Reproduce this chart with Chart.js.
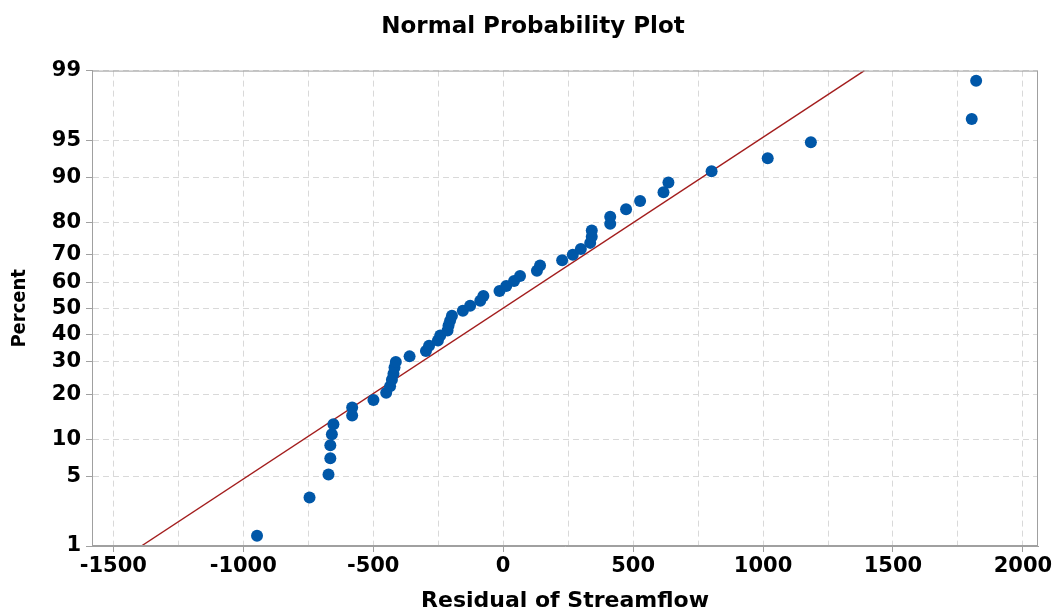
<!DOCTYPE html>
<html>
<head>
<meta charset="utf-8">
<script src="https://cdn.jsdelivr.net/npm/chart.js@4/dist/chart.umd.min.js"></script>
<style>
  body { margin: 0; background: #fff; }
</style>
</head>
<body>
<canvas id="graficoProb" width="1058" height="614"></canvas>
<script>
// residuos ordenados e percentis
const residuos = [-947, -745, -672, -665, -665, -659, -653, -581, -581, -499,
    -450, -435, -428, -422, -418, -413, -360, -297, -285, -251,
    -242, -214, -210, -204, -197, -155, -127, -88, -76, -14,
    12, 42, 65, 130, 142, 227, 268, 299, 335, 341,
    341, 412, 412, 473, 527, 617, 636, 802, 1018, 1184,
    1803, 1820];
const percentis = [1.3, 3.2, 5.2, 7.1, 9.0, 10.9, 12.8, 14.7, 16.6, 18.5,
    20.4, 22.3, 24.2, 26.1, 28.1, 30.0, 31.9, 33.8, 35.7, 37.6,
    39.5, 41.4, 43.3, 45.2, 47.1, 49.0, 51.0, 52.9, 54.8, 56.7,
    58.6, 60.5, 62.4, 64.3, 66.2, 68.1, 70.0, 71.9, 73.9, 75.8,
    77.7, 79.6, 81.5, 83.4, 85.3, 87.2, 89.1, 91.0, 92.9, 94.8,
    96.8, 98.7];
// reta de ajuste (extremos)
const retaX = [-1392, 1390];
const retaY = [1, 99];

const ticksY = [1, 5, 10, 20, 30, 40, 50, 60, 70, 80, 90, 95, 99];
const ticksX = [-1500, -1250, -1000, -750, -500, -250, 0, 250, 500, 750, 1000, 1250, 1500, 1750, 2000];

// inversa da normal (Acklam)
function probit(p) {
    const a = [-3.969683028665376e+01, 2.209460984245205e+02, -2.759285104469687e+02, 1.383577518672690e+02, -3.066479806614716e+01, 2.506628277459239e+00];
    const b = [-5.447609879822406e+01, 1.615858368580409e+02, -1.556989798598866e+02, 6.680131188771972e+01, -1.328068155288572e+01];
    const c = [-7.784894002430293e-03, -3.223964580411365e-01, -2.400758277161838e+00, -2.549732539343734e+00, 4.374664141464968e+00, 2.938163982698783e+00];
    const d = [7.784695709041462e-03, 3.224671290700398e-01, 2.445134137142996e+00, 3.754408661907416e+00];
    const pl = 0.02425;
    let q, r;
    if (p < pl) {
        q = Math.sqrt(-2 * Math.log(p));
        return (((((c[0] * q + c[1]) * q + c[2]) * q + c[3]) * q + c[4]) * q + c[5]) / ((((d[0] * q + d[1]) * q + d[2]) * q + d[3]) * q + 1);
    }
    if (p > 1 - pl) {
        q = Math.sqrt(-2 * Math.log(1 - p));
        return -(((((c[0] * q + c[1]) * q + c[2]) * q + c[3]) * q + c[4]) * q + c[5]) / ((((d[0] * q + d[1]) * q + d[2]) * q + d[3]) * q + 1);
    }
    q = p - 0.5;
    r = q * q;
    return (((((a[0] * r + a[1]) * r + a[2]) * r + a[3]) * r + a[4]) * r + a[5]) * q / (((((b[0] * r + b[1]) * r + b[2]) * r + b[3]) * r + b[4]) * r + 1);
}

function normCdf(z) {
    // aproximacao simples, so usada em getValueForPixel
    const t = 1 / (1 + 0.2316419 * Math.abs(z));
    const y = 0.3989423 * Math.exp(-z * z / 2) * t * (0.3193815 + t * (-0.3565638 + t * (1.781478 + t * (-1.821256 + t * 1.330274))));
    return z > 0 ? 1 - y : y;
}

// escala de probabilidade normal
class ProbabilityScale extends Chart.LinearScale {
    buildTicks() {
        return ticksY.map(v => ({ value: v }));
    }
    getPixelForValue(value) {
        const z0 = probit(this.min / 100);
        const z1 = probit(this.max / 100);
        return this.getPixelForDecimal((probit(value / 100) - z0) / (z1 - z0));
    }
    getValueForPixel(pixel) {
        const z0 = probit(this.min / 100);
        const z1 = probit(this.max / 100);
        return normCdf(z0 + this.getDecimalForPixel(pixel) * (z1 - z0)) * 100;
    }
}
ProbabilityScale.id = 'probability';
ProbabilityScale.defaults = Chart.LinearScale.defaults;
Chart.register(ProbabilityScale);

// moldura em volta da area do grafico
const moldura = {
    id: 'moldura',
    afterDatasetsDraw(chart) {
        const a = chart.chartArea;
        const ctx = chart.ctx;
        ctx.save();
        ctx.strokeStyle = '#a0a0a0';
        ctx.lineWidth = 1;
        ctx.strokeRect(a.left + 0.5, a.top + 0.5, a.right - a.left - 1, a.bottom - a.top - 1);
        ctx.restore();
    }
};

const pontos = residuos.map((v, i) => ({ x: v, y: percentis[i] }));
const reta = retaX.map((v, i) => ({ x: v, y: retaY[i] }));

const fonteLarga = "'DejaVu Sans', sans-serif";
const fonteEstreita = "'Liberation Sans Narrow', 'DejaVu Sans Condensed', sans-serif";
const cinzaGrade = '#d9d9d9';
const cinzaEixo = '#a0a0a0';

var ctx = document.getElementById('graficoProb');
var grafico = new Chart(ctx, {
    type: 'scatter',
    data: {
        datasets: [{
            data: pontos,
            backgroundColor: '#0057a8',
            borderColor: '#0057a8',
            pointRadius: 6,
            borderWidth: 0
        }, {
            type: 'line',
            data: reta,
            borderColor: '#a31d1d',
            borderWidth: 1.4,
            pointRadius: 0,
            fill: false
        }]
    },
    options: {
        responsive: false,
        animation: false,
        events: [],
        // padding esquerdo so para centrar o titulo como no original
        layout: { padding: { left: 28, right: 20, top: 0, bottom: 0 } },
        plugins: {
            legend: { display: false },
            tooltip: { enabled: false },
            title: {
                display: true,
                text: 'Normal Probability Plot',
                color: '#000',
                font: { family: fonteLarga, size: 23, weight: 'bold' },
                padding: { top: 13, bottom: 30 }
            }
        },
        scales: {
            x: {
                type: 'linear',
                min: -1582,
                max: 2058,
                afterBuildTicks: s => { s.ticks = ticksX.map(v => ({ value: v })); },
                afterFit: s => { s.height = 68; },
                ticks: {
                    color: '#000',
                    font: { family: fonteLarga, size: 21, weight: 'bold' },
                    padding: 2,
                    maxRotation: 0,
                    autoSkip: false,
                    callback: v => (v % 500 === 0 ? String(v) : '')
                },
                grid: {
                    color: cinzaGrade,
                    tickLength: 6,
                    tickColor: c => (c.tick && c.tick.value % 500 === 0 ? cinzaEixo : 'rgba(0,0,0,0)')
                },
                border: { color: cinzaEixo, dash: [6, 4] },
                title: {
                    display: true,
                    text: 'Residual of Streamflow',
                    color: '#000',
                    font: { family: fonteLarga, size: 22, weight: 'bold' },
                    padding: { top: 0, bottom: 0 }
                }
            },
            y: {
                type: 'probability',
                min: 1,
                max: 99,
                afterFit: s => { s.width = 64; },
                ticks: {
                    color: '#000',
                    font: { family: fonteLarga, size: 21, weight: 'bold' },
                    padding: 5,
                    autoSkip: false,
                    callback: v => String(v)
                },
                grid: {
                    color: cinzaGrade,
                    tickLength: 6,
                    tickColor: cinzaEixo
                },
                border: { color: cinzaEixo, dash: [6, 4] },
                title: {
                    display: true,
                    text: 'Percent',
                    color: '#000',
                    font: { family: fonteEstreita, size: 20, weight: 'bold' },
                    padding: { top: -20, bottom: 0 }
                }
            }
        }
    },
    plugins: [moldura]
});
</script>
</body>
</html>
